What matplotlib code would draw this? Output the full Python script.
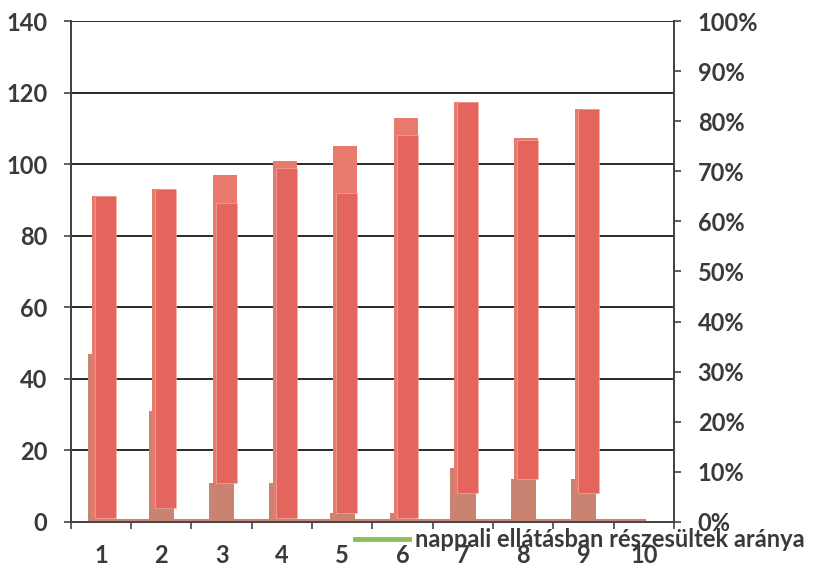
import numpy as np
import matplotlib as mpl
import matplotlib.pyplot as plt
from matplotlib.lines import Line2D
from matplotlib.ticker import PercentFormatter

# category labels
categories = ["1", "2", "3", "4", "5", "6", "7", "8", "9", "10"]

# red bars: top of the lighter layer and of the darker layer, common base
red_light_top = [91, 93, 97, 101, 105, 113, 117.5, 107.3, 115.5, 0]
red_dark_top = [91, 93, 89, 99, 92, 108, 117.5, 106.7, 115.5, 0]
red_base = [1, 4, 11, 1, 2.5, 1, 8, 12, 8, 0]

# brown bars behind the red ones
brown_bar = [47, 31, 11, 11, 2.5, 2.5, 15, 12, 12, 0]

# brown line along the bottom (left axis)
brown_line = [0.6, 0.6, 0.6, 0.6, 0.6, 0.6, 0.6, 0.6, 0.6, 0.6]

# green share line (right axis, fraction)
green_share = [0.002, 0.002, 0.002, 0.002, 0.002, 0.002, 0.002, 0.002, 0.002, 0.002]
green_label = "nappali ellátásban részesültek aránya"

left_ticks = [0, 20, 40, 60, 80, 100, 120, 140]
right_ticks = [0, 0.1, 0.2, 0.3, 0.4, 0.5, 0.6, 0.7, 0.8, 0.9, 1.0]

text_color = "#3a3a3a"
c_red_light = "#e8796d"
c_red_dark = "#e4655d"
c_brown = "#c98370"
c_green = "#8cbf5a"

mpl.rcParams["font.family"] = ["Lato", "DejaVu Sans"]
mpl.rcParams["font.weight"] = "bold"

fig = plt.figure(figsize=(8.24, 5.76), dpi=100)
ax = fig.add_axes([0.086, 0.094, 0.732, 0.8695])
ax2 = ax.twinx()

x = np.arange(1, len(categories) + 1)
base = np.array(red_base)

# green line on the secondary axis (kept behind the bars)
ax2.plot(x, green_share, color=c_green, lw=2.5, zorder=1)
ax2.set_ylim(0, 1)
ax2.set_yticks(right_ticks)
ax2.yaxis.set_major_formatter(PercentFormatter(1.0, decimals=0))

ax.set_zorder(ax2.get_zorder() + 1)
ax.patch.set_visible(False)

# horizontal grid
for v in left_ticks[1:]:
    ax.axhline(v, color="#2a2a2a", lw=1.4, zorder=0.5)

ax.bar(x, brown_bar, width=0.42, color=c_brown, zorder=1)
ax.plot(x, brown_line, color=c_brown, lw=2.2, zorder=1.2)
ax.bar(x + 0.05, np.array(red_light_top) - base, bottom=base, width=0.4,
       color=c_red_light, zorder=2)
ax.bar(x + 0.075, np.array(red_dark_top) - base, bottom=base, width=0.35,
       color=c_red_dark, edgecolor="#f0b8ae", linewidth=0.4, zorder=3)

ax.set_xlim(0.5, 10.5)
ax.set_ylim(0, 140)
ax.set_yticks(left_ticks)
ax.set_xticks(x)
ax.set_xticklabels(categories)
ax.set_xticks(np.arange(0.5, 11, 1), minor=True)

ax.spines["top"].set_visible(False)
ax2.spines["top"].set_visible(False)
for a in (ax, ax2):
    for sp in ["left", "right", "bottom"]:
        a.spines[sp].set_color("#444444")
        a.spines[sp].set_linewidth(1.3)

ax.tick_params(axis="x", which="major", length=0, pad=16, labelsize=17,
               colors=text_color)
ax.tick_params(axis="x", which="minor", length=5, color="#444444", width=1.2)
ax.tick_params(axis="y", length=5, width=1.2, color="#444444", pad=12,
               labelsize=17, labelcolor=text_color)
ax2.tick_params(axis="y", length=5, width=1.2, color="#444444", pad=12,
                labelsize=17, labelcolor=text_color)

handle = Line2D([0], [0], color=c_green, lw=3.5)
fig.legend(handles=[handle], labels=[green_label], loc="center left",
           bbox_to_anchor=(0.431, 0.063), frameon=False, handlelength=2.3,
           handletextpad=0.25, borderpad=0, borderaxespad=0,
           prop={"size": 17, "weight": "bold"}, labelcolor=text_color)

fig.savefig("out.png", dpi=100)
